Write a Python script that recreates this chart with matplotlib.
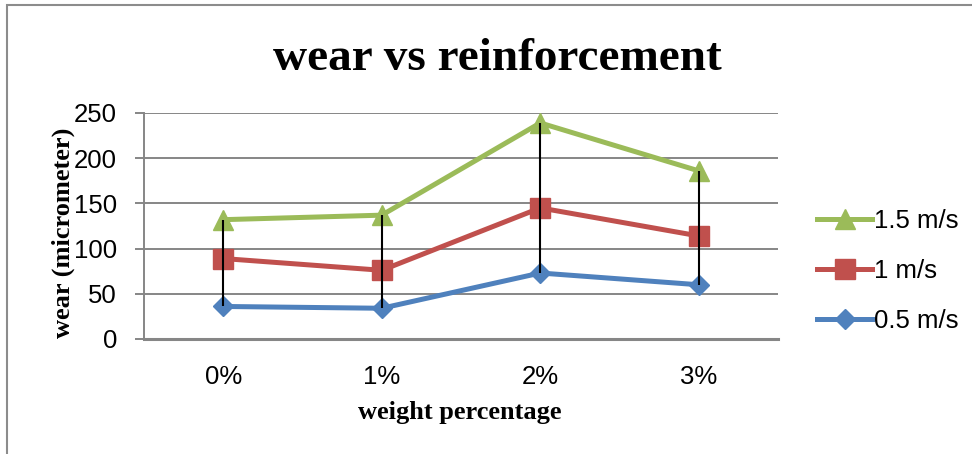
import matplotlib
matplotlib.use("Agg")
import matplotlib.pyplot as plt
from matplotlib.patches import Rectangle

# data
categories = ["0%", "1%", "2%", "3%"]
speed_labels = ["1.5 m/s", "1 m/s", "0.5 m/s"]
wear_15 = [132, 137, 239, 186]
wear_10 = [89, 76, 145, 114]
wear_05 = [36, 34, 73, 60]
yticks = [0, 50, 100, 150, 200, 250]

colors = {"1.5 m/s": "#9BBB59", "1 m/s": "#C0504D", "0.5 m/s": "#4F81BD"}
markers = {"1.5 m/s": ("^", 15), "1 m/s": ("s", 14), "0.5 m/s": ("D", 10)}
series = {"1.5 m/s": wear_15, "1 m/s": wear_10, "0.5 m/s": wear_05}

sans = ["Liberation Sans Narrow", "Liberation Sans", "DejaVu Sans"]
serif = ["Liberation Serif", "DejaVu Serif"]

W, H = 972, 454
fig = plt.figure(figsize=(W / 100, H / 100), dpi=100)

# outer chart border
fig.patches.append(Rectangle((7 / W, -0.1), 1.2, 1 - 5 / H + 0.1, transform=fig.transFigure,
                             fill=False, edgecolor="#8c8c8c", linewidth=1.5))

ax = fig.add_axes([144 / W, 1 - 339 / H, (778 - 144) / W, (339 - 113) / H])
x = list(range(len(categories)))

for name in speed_labels:
    m, ms = markers[name]
    ax.plot(x, series[name], color=colors[name], linewidth=3.6, marker=m, markersize=ms,
            label=name, zorder=3)

# high-low lines
lows = [min(a, b, c) for a, b, c in zip(wear_15, wear_10, wear_05)]
highs = [max(a, b, c) for a, b, c in zip(wear_15, wear_10, wear_05)]
ax.vlines(x, lows, highs, color="black", linewidth=1.5, zorder=4)

ax.set_xlim(-0.5, len(categories) - 0.5)
ax.set_ylim(0, 250)
ax.set_yticks(yticks)
ax.set_xticks(x)
ax.set_xticklabels(categories)
ax.yaxis.grid(True, color="#868686", linewidth=1.4)
ax.set_axisbelow(True)

for s in ["top", "right"]:
    ax.spines[s].set_visible(False)
ax.spines["left"].set_color("#868686")
ax.spines["left"].set_linewidth(1.4)
ax.spines["bottom"].set_color("#868686")
ax.spines["bottom"].set_linewidth(2.2)

ax.tick_params(axis="y", length=6.5, width=1.4, color="#868686", pad=13)
ax.tick_params(axis="x", length=0, pad=19)
for lab in ax.get_xticklabels() + ax.get_yticklabels():
    lab.set_family(sans)
    lab.set_fontsize(18.5)

fig.text(460 / W, 1 - 413 / H, "weight percentage", family=serif, fontweight="bold",
         fontsize=19, ha="center", va="center")
fig.text(63 / W, 1 - 233 / H, "wear (micrometer)", family=serif, fontweight="bold",
         fontsize=19, ha="center", va="center", rotation=90)

fig.text(497 / W, 1 - 70 / H, "wear vs reinforcement", family=serif, fontweight="bold",
         fontsize=34, ha="center", va="baseline")

leg = fig.legend(loc="center left", bbox_to_anchor=(817 / W, 1 - 271 / H), frameon=False,
                 prop={"family": sans, "size": 18.5}, handlelength=2.15, handletextpad=0.05,
                 labelspacing=1.0, borderpad=0, borderaxespad=0)
for h in leg.legend_handles:
    h.set_linewidth(3.6)

fig.savefig("out.png", dpi=100)
